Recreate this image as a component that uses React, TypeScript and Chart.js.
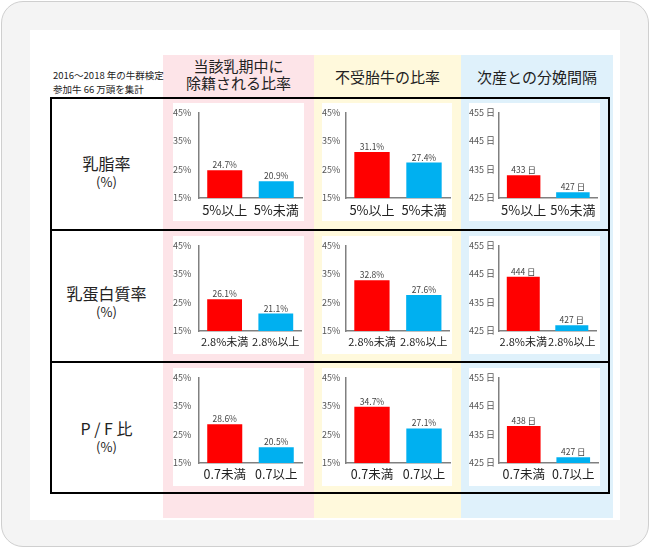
import React, { useEffect, useRef } from "react";
import { Chart, registerables } from "chart.js";
Chart.register(...registerables);

const FONT = "'Noto Sans CJK JP', 'Noto Sans', sans-serif";

const noteLines = ["2016～2018 年の牛群検定", "参加牛 66 万頭を集計"];
const columnHeaders = ["当該乳期中に\n除籍される比率", "不受胎牛の比率", "次産との分娩間隔"];
const rowTitles = ["乳脂率", "乳蛋白質率", "P / F 比"];
const rowUnit = "(%)";

const fatCategories = ["5%以上", "5%未満"];
const proteinCategories = ["2.8%未満", "2.8%以上"];
const pfCategories = ["0.7未満", "0.7以上"];

const fatCull = [24.7, 20.9];
const fatOpen = [31.1, 27.4];
const fatInterval = [433, 427];
const proteinCull = [26.1, 21.1];
const proteinOpen = [32.8, 27.6];
const proteinInterval = [444, 427];
const pfCull = [28.6, 20.5];
const pfOpen = [34.7, 27.1];
const pfInterval = [438, 427];

const pctTicks = [15, 25, 35, 45];
const dayTicks = [425, 435, 445, 455];
const barColors = ["#ff0000", "#00b0f0"];

const colBg = ["#fde4e8", "#fff9dc", "#dff1fb"];
const colX = [163, 314, 461];
const colW = [151, 147, 152];
const boxX = [173, 322, 469];
const boxW = [131, 130, 131];
const axisW = [26, 24, 30];
const rowBoxY = [103, 236, 368];
const rowLabelSize = [13, 11, 12.5];

type Kind = "pct" | "day";

function fmt(v: number, kind: Kind) {
  return kind === "pct" ? `${v}%` : `${v} 日`;
}

function MiniBar(props: {
  left: number; top: number; width: number; height: number;
  labels: string[]; values: number[]; kind: Kind; yAxisWidth: number; labelSize: number;
}) {
  const ref = useRef<HTMLCanvasElement>(null);
  const { left, top, width, height, labels, values, kind, yAxisWidth, labelSize } = props;
  useEffect(() => {
    const ticks = kind === "pct" ? pctTicks : dayTicks;
    const valueLabels = {
      id: "valueLabels",
      afterDatasetsDraw(chart: any) {
        const ctx = chart.ctx;
        const meta = chart.getDatasetMeta(0);
        ctx.save();
        ctx.font = `8.5px ${FONT}`;
        ctx.fillStyle = "#444";
        ctx.textAlign = "center";
        ctx.textBaseline = "bottom";
        meta.data.forEach((el: any, i: number) => {
          ctx.fillText(fmt(values[i], kind), el.x, el.y - 1);
        });
        ctx.restore();
      },
    };
    const chart = new Chart(ref.current as HTMLCanvasElement, {
      type: "bar",
      data: {
        labels,
        datasets: [{ data: values, backgroundColor: barColors, barPercentage: 0.68, categoryPercentage: 1 }],
      },
      options: {
        responsive: false,
        animation: false,
        layout: { padding: { top: 8, right: 2, left: 0, bottom: 0 } },
        plugins: { legend: { display: false }, tooltip: { enabled: false } },
        scales: {
          x: {
            grid: { display: false, drawTicks: false },
            border: { color: "#808080", width: 1.5 },
            ticks: { font: { size: labelSize, family: FONT }, color: "#222", padding: 4, maxRotation: 0, autoSkip: false },
            afterFit: (s: any) => { s.height = 23; },
          },
          y: {
            min: ticks[0],
            max: ticks[ticks.length - 1],
            grid: { display: false, drawTicks: false },
            border: { color: "#808080", width: 1.5 },
            afterBuildTicks: (s: any) => { s.ticks = ticks.map((v) => ({ value: v })); },
            ticks: {
              font: { size: 9, family: FONT }, color: "#555", padding: 4, crossAlign: "far",
              callback: (v: any) => fmt(Number(v), kind),
            },
            afterFit: (s: any) => { s.width = yAxisWidth; },
          },
        },
      },
      plugins: [valueLabels],
    } as any);
    return () => chart.destroy();
  }, []);
  return (
    <canvas
      ref={ref}
      width={width}
      height={height}
      style={{ position: "absolute", left, top, width, height, background: "#fff" }}
    />
  );
}

export default function App() {
  const rows = [
    { cats: fatCategories, vals: [fatCull, fatOpen, fatInterval] },
    { cats: proteinCategories, vals: [proteinCull, proteinOpen, proteinInterval] },
    { cats: pfCategories, vals: [pfCull, pfOpen, pfInterval] },
  ];
  const rowCenterY = [163, 293, 428];
  return (
    <div style={{ position: "absolute", left: 0, top: 0, width: 650, height: 550, fontFamily: FONT, overflow: "hidden" }}>
      <div style={{ position: "absolute", left: 1, top: 1, width: 646, height: 544, border: "1px solid #cfcfcf", borderRadius: 22, background: "#f4f4f4" }} />
      <div style={{ position: "absolute", left: 30, top: 30, width: 590, height: 490, background: "#fff" }} />
      {colX.map((x, i) => (
        <div key={"c" + i} style={{ position: "absolute", left: x, top: 55, width: colW[i], height: 463, background: colBg[i] }} />
      ))}
      {columnHeaders.map((h, i) => (
        <div key={"h" + i} style={{
          position: "absolute", left: colX[i], top: h.includes("\n") ? 57 : 68, width: colW[i],
          textAlign: "center", fontSize: 15, lineHeight: "17px", color: "#222", whiteSpace: "pre",
        }}>{h}</div>
      ))}
      <div style={{ position: "absolute", left: 53, top: 68, fontSize: 9.5, lineHeight: "14px", color: "#222", whiteSpace: "pre" }}>
        {noteLines.join("\n")}
      </div>
      <div style={{ position: "absolute", left: 50, top: 97, width: 560, height: 397, border: "2px solid #000", boxSizing: "border-box" }} />
      <div style={{ position: "absolute", left: 50, top: 229, width: 560, height: 2, background: "#000" }} />
      <div style={{ position: "absolute", left: 50, top: 361, width: 560, height: 2, background: "#000" }} />
      {rowTitles.map((t, i) => (
        <div key={"r" + i} style={{ position: "absolute", left: 50, top: rowCenterY[i] - 11, width: 113, textAlign: "center", color: "#222" }}>
          <div style={{ fontSize: 16, lineHeight: "22px" }}>{t}</div>
          <div style={{ fontSize: 13, lineHeight: "16px" }}>{rowUnit}</div>
        </div>
      ))}
      {rows.map((r, ri) =>
        r.vals.map((v, ci) => (
          <MiniBar
            key={`${ri}-${ci}`}
            left={boxX[ci]}
            top={rowBoxY[ri]}
            width={boxW[ci]}
            height={118}
            labels={r.cats}
            values={v}
            kind={ci === 2 ? "day" : "pct"}
            yAxisWidth={axisW[ci]}
            labelSize={rowLabelSize[ri]}
          />
        ))
      )}
    </div>
  );
}
